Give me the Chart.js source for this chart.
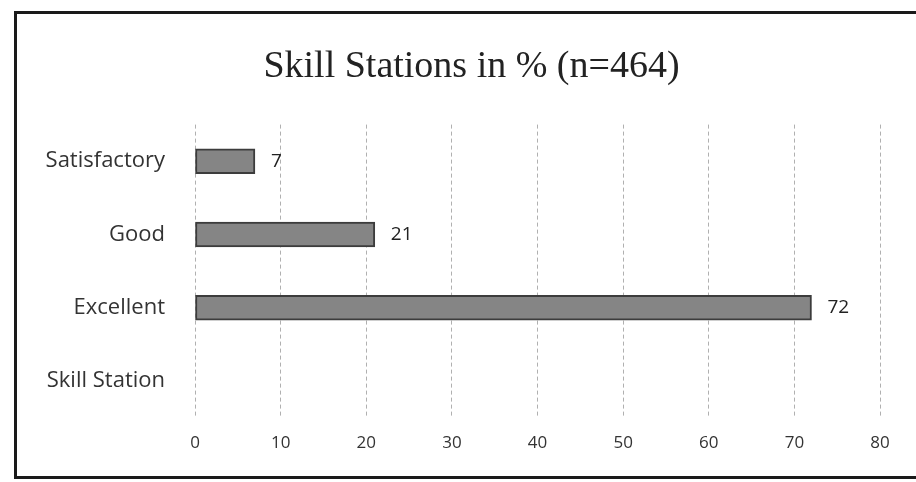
<!DOCTYPE html>
<html>
<head>
<meta charset="utf-8">
<script src="https://cdn.jsdelivr.net/npm/chart.js@4/dist/chart.umd.min.js"></script>
<style>
  html, body { margin: 0; padding: 0; background: #fff; overflow: hidden; width: 916px; height: 482px; }
  #frame { position: absolute; left: 14px; top: 11px; width: 920px; height: 462px; border: 3px solid #1a1a1a; border-right: none; }
  #chart1 { display: block; }
</style>
</head>
<body>
<div id="frame"><canvas id="chart1" width="920" height="462"></canvas></div>
<script>
var categories = ["Satisfactory", "Good", "Excellent", "Skill Station"];
var values = [7, 21, 72, null];
var xTicks = [0, 10, 20, 30, 40, 50, 60, 70, 80];

// draws the number next to each bar
var valueLabels = {
  id: 'valueLabels',
  afterDatasetsDraw: function(chart) {
    var ctx = chart.ctx;
    var meta = chart.getDatasetMeta(0);
    ctx.save();
    ctx.font = '19px "Open Sans"';
    ctx.fillStyle = '#222';
    ctx.textAlign = 'left';
    ctx.textBaseline = 'middle';
    meta.data.forEach(function(bar, i) {
      if (values[i] == null) return;
      ctx.fillText(values[i], bar.x + 16, bar.y);
    });
    ctx.restore();
  }
};

var chart1e = document.getElementById("chart1");
var chart1 = new Chart(chart1e, {
  type: 'bar',
  data: {
    labels: categories,
    datasets: [{
      label: 'Skill Stations',
      data: values,
      yAxisID: 'y',
      backgroundColor: '#858585',
      borderColor: '#3c3c3c',
      borderWidth: 2,
      borderSkipped: false,
      barThickness: 25
    }]
  },
  plugins: [valueLabels],
  options: {
    indexAxis: 'y',
    responsive: false,
    animation: false,
    layout: { padding: { left: 0, right: 11, top: 0, bottom: 8 } },
    plugins: {
      legend: { display: false },
      tooltip: { enabled: false },
      title: {
        display: true,
        text: "Skill Stations in % (n=464)",
        color: '#222',
        font: { family: '"Liberation Serif", "Times New Roman", serif', size: 38, weight: 'normal' },
        padding: { top: 30, bottom: 35 }
      }
    },
    scales: {
      x: {
        min: 0,
        max: 80,
        afterBuildTicks: function(scale) {
          scale.ticks = xTicks.map(function(v) { return { value: v }; });
        },
        grid: { color: '#b0b0b0', lineWidth: 1, drawTicks: false },
        border: { display: false, dash: [4, 3] },
        ticks: { padding: 15, color: '#333', font: { family: '"Open Sans"', size: 17 } }
      },
      y: {
        grid: { display: false, drawTicks: false },
        border: { display: false },
        afterFit: function(scale) { scale.width = 178; },
        ticks: { padding: 30, color: '#333', font: { family: '"Open Sans"', size: 22 } }
      },
      // empty spacer on the right so the title sits where it does in the picture
      spacer: {
        type: 'category',
        axis: 'y',
        position: 'right',
        grid: { display: false, drawTicks: false },
        border: { display: false },
        ticks: { display: false },
        afterFit: function(scale) { scale.width = 46; }
      }
    }
  }
});
</script>
</body>
</html>
